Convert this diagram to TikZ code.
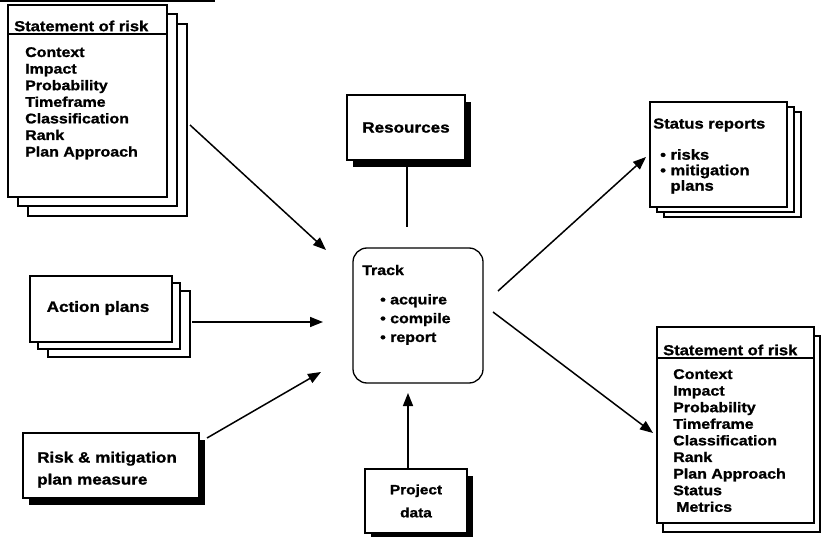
\documentclass[tikz,border=0pt]{standalone}
\usepackage{fontspec}
\setmainfont{Liberation Sans}[FakeStretch=1.14, BoldFeatures={FakeBold=1.2}]
\usetikzlibrary{arrows.meta,shadows}
\begin{document}
\begin{tikzpicture}[x=1pt,y=-1pt,
  box/.style={draw, line width=1.3pt, fill=white, inner sep=0pt},
  sheet/.style={box},
  shadowbox/.style={box, drop shadow={shadow xshift=6pt, shadow yshift=-7pt, opacity=1, fill=black}},
  lst/.style={font=\fontsize{14}{16.6}\selectfont\bfseries, align=left, inner sep=0pt},
  ttl/.style={font=\fontsize{14.5}{17}\selectfont\bfseries, inner sep=0pt},
  big/.style={font=\fontsize{15}{22}\selectfont\bfseries, align=left, inner sep=0pt},
  trk/.style={font=\fontsize{14}{18.8}\selectfont\bfseries, align=left, inner sep=0pt},
  sts/.style={font=\fontsize{14.5}{15.5}\selectfont\bfseries, align=left, inner sep=0pt},
  prj/.style={font=\fontsize{13.5}{23}\selectfont\bfseries, align=center, inner sep=0pt},
  flow/.style={line width=1.5pt, -{Triangle[length=13pt,width=10pt]}},
  link/.style={line width=1.3pt}
]
\useasboundingbox (0,0) rectangle (821,537);
\fill[white] (0,0) rectangle (821,537);

% edge rule along the top
\draw[line width=2pt] (0,1) -- (215,1);

% ---- statement of risk (input stack) ----
\node[sheet, minimum width=159pt, minimum height=192pt] (sr1c) at (107.5,120) {};
\node[sheet, minimum width=159pt, minimum height=192pt] (sr1b) at (97.5,110) {};
\node[box, minimum width=159pt, minimum height=192pt] (sr1) at (87.5,101) {};
\draw[link] (sr1.west |- 0,34) -- (sr1.east |- 0,34);
\node[ttl, anchor=west] (sr1t) at (14,26) {Statement of risk};
\node[lst, anchor=north west] (sr1l) at (25,47)
  {Context\\Impact\\Probability\\Timeframe\\Classification\\Rank\\Plan Approach};

% ---- resources ----
\node[shadowbox, minimum width=118pt, minimum height=65pt, big] (res) at (406,127.5) {Resources};
\coordinate (resend) at (407,227);
\draw[link] (res.south -| resend) -- (resend);

% ---- track ----
\node[box, rounded corners=14pt, minimum width=130pt, minimum height=135pt] (track) at (418,315.5) {};
\node[trk, anchor=west] (trt) at (362,270) {Track};
\node[trk, anchor=north west] (trl) at (380,294)
  {\textbullet\ acquire\\\textbullet\ compile\\\textbullet\ report};

% ---- action plans ----
\node[sheet, minimum width=142pt, minimum height=66pt] (apc) at (119,324) {};
\node[sheet, minimum width=142pt, minimum height=66pt] (apb) at (109,316) {};
\node[box, minimum width=142pt, minimum height=66pt] (ap) at (101,309) {};
\node[big] (apt) at (98,308) {Action plans};

% ---- risk & mitigation plan measure ----
\node[shadowbox, minimum width=176pt, minimum height=65pt] (rm) at (111,465.5) {};
\node[big, anchor=north west] (rmt) at (37,451.5) {Risk \& mitigation\\plan measure};

% ---- project data ----
\node[shadowbox, minimum width=102pt, minimum height=64pt, prj] (proj) at (416,501) {Project\\data};

% ---- status reports ----
\node[sheet, minimum width=137pt, minimum height=105pt] (stc) at (732.5,164.5) {};
\node[sheet, minimum width=137pt, minimum height=105pt] (stb) at (725.5,159.5) {};
\node[box, minimum width=137pt, minimum height=105pt] (st) at (718.5,154.5) {};
\node[sts, anchor=west] (stt) at (653,125) {Status reports};
\node[sts, anchor=north west] (stl) at (660,149)
  {\textbullet\ risks\\\textbullet\ mitigation\\\phantom{\textbullet\ }plans};

% ---- statement of risk (output) ----
\node[sheet, minimum width=157pt, minimum height=196pt] (sr2b) at (741.5,434) {};
\node[box, minimum width=157pt, minimum height=196pt] (sr2) at (735.5,425) {};
\draw[link] (sr2.west |- 0,358) -- (sr2.east |- 0,358);
\node[ttl, anchor=west] (sr2t) at (663,350) {Statement of risk};
\node[lst, anchor=north west] (sr2l) at (673,369)
  {Context\\Impact\\Probability\\Timeframe\\Classification\\Rank\\Plan Approach\\Status\\\hspace{3pt}Metrics};

% ---- connectors ----
\coordinate (a1s) at (190,125);  \coordinate (a1e) at (326,250);
\coordinate (a2s) at (192,322);  \coordinate (a2e) at (323,322);
\coordinate (a3s) at (207,438);  \coordinate (a3e) at (321,372);
\coordinate (a4s) at (498,291);  \coordinate (a4e) at (646,157);
\coordinate (a5s) at (493,312);  \coordinate (a5e) at (653,433);
\coordinate (pjt) at (408,393);
\draw[flow] (a1s) -- (a1e);
\draw[flow] (a2s) -- (a2e);
\draw[flow] (a3s) -- (a3e);
\draw[flow] (proj.north -| pjt) -- (pjt);
\draw[flow] (a4s) -- (a4e);
\draw[flow] (a5s) -- (a5e);
\end{tikzpicture}
\end{document}
